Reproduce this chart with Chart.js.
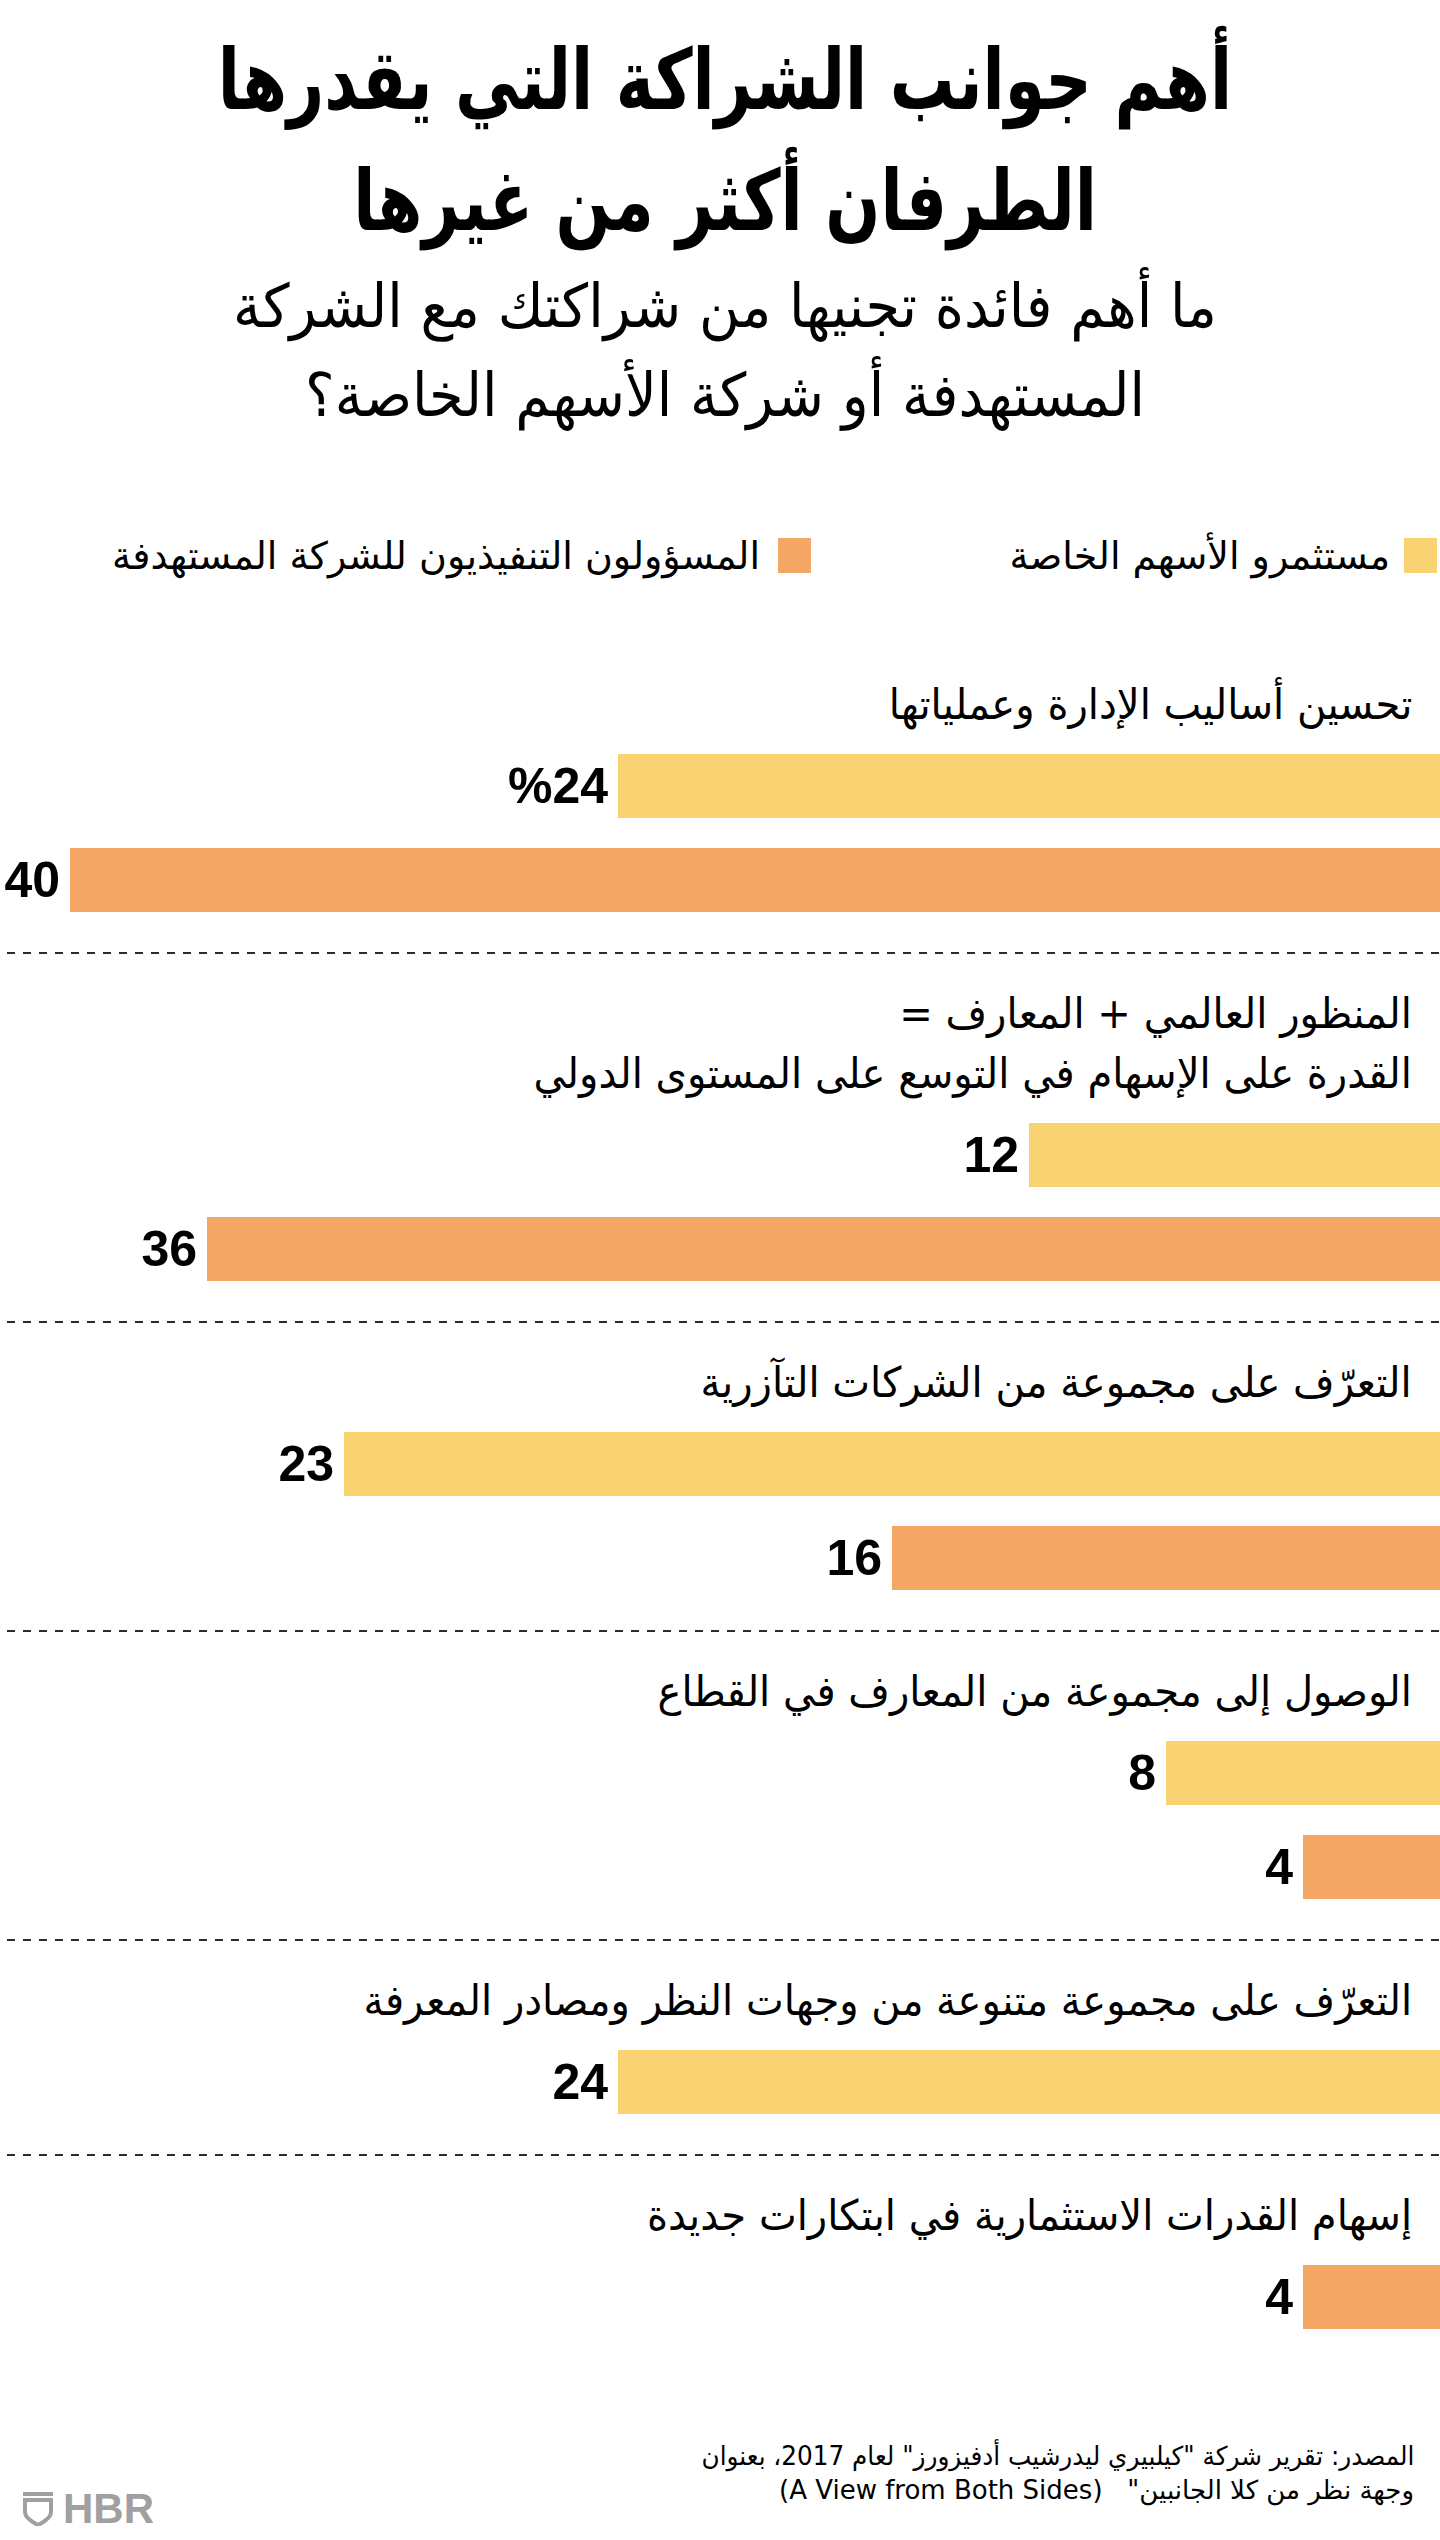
<!DOCTYPE html>
<html lang="ar">
<head>
<meta charset="utf-8">
<script src="https://cdn.jsdelivr.net/npm/chart.js@4.4.1/dist/chart.umd.min.js"></script>
<style>
  html, body { margin: 0; padding: 0; background: #fff; }
  body { width: 1440px; height: 2540px; position: relative; overflow: hidden; font-family: "DejaVu Sans", sans-serif; color: #000; }
  #title { position: absolute; top: 20px; left: 10px; width: 1430px; text-align: center; font-weight: bold; font-size: 84px; line-height: 121px; direction: rtl; transform: scaleX(0.77); transform-origin: 50% 50%; }
  #subtitle { position: absolute; top: 262px; left: 10px; width: 1430px; text-align: center; font-size: 60px; line-height: 89px; direction: rtl; transform: scaleX(0.93); transform-origin: 50% 50%; }
  .lg-sw { position: absolute; top: 538px; width: 33px; height: 35px; }
  .lg-tx { position: absolute; top: 536px; font-size: 38px; line-height: 40px; direction: rtl; white-space: nowrap; }
  #groups { position: absolute; top: 675px; left: 0; width: 1440px; }
  .group { position: relative; }
  .glabel { direction: rtl; text-align: right; padding-right: 28px; font-size: 42px; line-height: 60px; margin-bottom: 4px; white-space: nowrap; }
  .glabel span { display: inline-block; transform: scaleX(0.955); transform-origin: 100% 50%; }
  .group canvas { display: block; }
  .sep { height: 2px; margin-top: 25px; margin-bottom: 30px; background-image: linear-gradient(to right, #2a2a2a 0, #2a2a2a 8px, transparent 8px, transparent 16px); background-size: 16px 2px; background-position: 7px 0; background-repeat: repeat-x; }
  #source { position: absolute; top: 2439px; right: 26px; direction: rtl; text-align: right; font-size: 26px; line-height: 34px; white-space: nowrap; }
  #source .l1 { display: inline-block; transform: scaleX(0.95); transform-origin: 100% 50%; }
  #logo { position: absolute; left: 22px; top: 2491px; display: flex; align-items: center; color: #a0a0a0; font-family: "Liberation Sans", Arial, sans-serif; font-weight: bold; font-size: 42px; line-height: 36px; }
</style>
</head>
<body>
<div id="title">أهم جوانب الشراكة التي يقدرها<br>الطرفان أكثر من غيرها</div>
<div id="subtitle">ما أهم فائدة تجنيها من شراكتك مع الشركة<br>المستهدفة أو شركة الأسهم الخاصة؟</div>
<div id="legend"></div>
<div id="groups"></div>
<div id="source"><span class="l1">المصدر: تقرير شركة "كيلبيري ليدرشيب أدفيزورز" لعام 2017، بعنوان</span><br>وجهة نظر من كلا الجانبين"&nbsp;&nbsp; <span dir="ltr" style="unicode-bidi:isolate">(A View from Both Sides)</span></div>
<div id="logo"><svg width="32" height="34" viewBox="0 0 32 34"><rect x="1" y="0" width="30" height="4" fill="#a0a0a0"/><path d="M3 8 H29 V20 C29 26 22 30 16 33 C10 30 3 26 3 20 Z" fill="none" stroke="#a0a0a0" stroke-width="4"/></svg><span style="margin-left:9px">HBR</span></div>

<script>
// ---- data ----
const seriesNames = ["مستثمرو الأسهم الخاصة", "المسؤولون التنفيذيون للشركة المستهدفة"];
const seriesColors = ["#F9D371", "#F4A664"];
const categories = [
  ["تحسين أساليب الإدارة وعملياتها"],
  ["المنظور العالمي + المعارف =", "القدرة على الإسهام في التوسع على المستوى الدولي"],
  ["التعرّف على مجموعة من الشركات التآزرية"],
  ["الوصول إلى مجموعة من المعارف في القطاع"],
  ["التعرّف على مجموعة متنوعة من وجهات النظر ومصادر المعرفة"],
  ["إسهام القدرات الاستثمارية في ابتكارات جديدة"]
];
// bar lengths as drawn in the picture
const privateEquity = [24, 12, 32, 8, 24, null];
const targetExecs   = [40, 36, 16, 4, null, 4];
// value labels as printed in the picture
const privateEquityLabels = ["%24", "12", "23", "8", "24", ""];
const targetExecsLabels   = ["40", "36", "16", "4", "", "4"];
const axisMax = 40;

// ---- legend ----
const legend = document.getElementById('legend');
const legendPos = [{sw: 3, tx: 50}, {sw: 629, tx: 680}];
seriesNames.forEach((name, i) => {
  const sw = document.createElement('div');
  sw.className = 'lg-sw'; sw.style.right = legendPos[i].sw + 'px'; sw.style.background = seriesColors[i];
  const tx = document.createElement('div');
  tx.className = 'lg-tx'; tx.style.right = legendPos[i].tx + 'px'; tx.textContent = name;
  legend.appendChild(sw); legend.appendChild(tx);
});

// ---- value labels plugin ----
const valueLabels = {
  id: 'valueLabels',
  afterDatasetsDraw(chart) {
    const ctx = chart.ctx;
    ctx.save();
    ctx.font = 'bold 50px "Liberation Sans", Arial, sans-serif';
    ctx.fillStyle = '#000';
    ctx.textAlign = 'right';
    ctx.textBaseline = 'middle';
    chart.data.datasets.forEach((ds, di) => {
      const meta = chart.getDatasetMeta(di);
      meta.data.forEach((el, j) => {
        const v = ds.data[j];
        if (v === null || v === undefined) return;
        ctx.fillText(ds.valueLabels[j], el.x - 10, el.y + 3);
      });
    });
    ctx.restore();
  }
};

// ---- groups ----
const container = document.getElementById('groups');
const slot = 94;
categories.forEach((lines, i) => {
  const g = document.createElement('div');
  g.className = 'group';
  const lab = document.createElement('div');
  lab.className = 'glabel';
  lines.forEach((l, k) => {
    if (k > 0) lab.appendChild(document.createElement('br'));
    const sp = document.createElement('span');
    sp.textContent = l;
    lab.appendChild(sp);
  });
  g.appendChild(lab);
  const nBars = [privateEquity[i], targetExecs[i]].filter(v => v !== null).length;
  const canvas = document.createElement('canvas');
  canvas.width = 1440;
  canvas.height = slot * nBars;
  g.appendChild(canvas);
  if (i < categories.length - 1) {
    const sep = document.createElement('div');
    sep.className = 'sep';
    g.appendChild(sep);
  }
  container.appendChild(g);

  new Chart(canvas, {
    type: 'bar',
    data: {
      labels: [lines.join(' ')],
      datasets: [
        { label: seriesNames[0], data: [privateEquity[i]], backgroundColor: seriesColors[0], valueLabels: [privateEquityLabels[i]] },
        { label: seriesNames[1], data: [targetExecs[i]], backgroundColor: seriesColors[1], valueLabels: [targetExecsLabels[i]] }
      ]
    },
    options: {
      indexAxis: 'y',
      responsive: false,
      animation: false,
      devicePixelRatio: 1,
      layout: { padding: { left: 70, right: 0, top: 0, bottom: 0 } },
      datasets: { bar: { categoryPercentage: 1, barPercentage: 64 / 94, skipNull: true, borderWidth: 0 } },
      scales: {
        x: { type: 'linear', min: 0, max: axisMax, reverse: true, display: false },
        y: { display: false }
      },
      plugins: { legend: { display: false }, tooltip: { enabled: false } }
    },
    plugins: [valueLabels]
  });
});
</script>
</body>
</html>
